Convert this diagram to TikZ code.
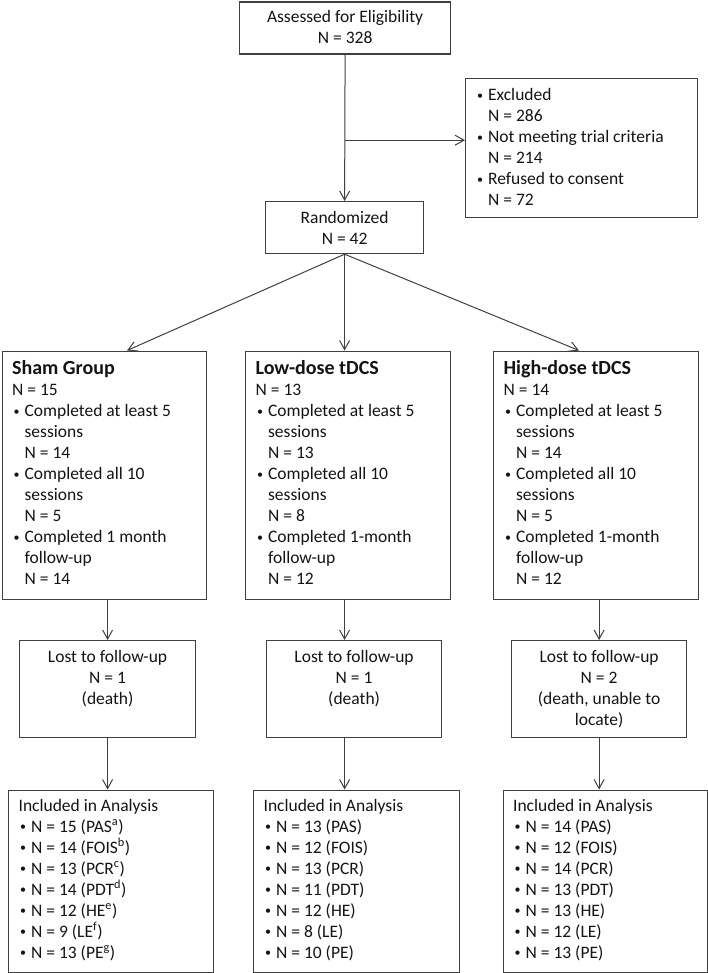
\documentclass[tikz,border=0pt]{standalone}
\usepackage{fontspec}
\setmainfont{Carlito}
\usetikzlibrary{arrows.meta}
\definecolor{lc}{RGB}{64,64,64}
\definecolor{tc}{RGB}{20,20,20}
\newcommand\bx[5]{\parbox[c][#2pt][t]{#1pt}{\vspace*{#3pt}#4\strut#5}}
\newcommand\bul{\makebox[12.5pt][l]{\hspace{1.5pt}\raisebox{1.2pt}{\fontsize{12}{12}\selectfont\textbullet}}}
\newcommand\ind{\hspace*{12.5pt}}
\newcommand\lft{\raggedright\leftskip=10pt\relax}
\newcommand\ctr{\centering}
\newcommand\ttl[1]{{\fontsize{20}{21}\selectfont\bfseries #1}}
\begin{document}
\begin{tikzpicture}[x=1pt,y=-1pt,
  box/.style={draw=lc, line width=1.2pt, inner sep=0pt, anchor=north west, text=tc,
    font=\fontsize{17.5}{21}\selectfont},
  arr/.style={draw=lc, line width=1pt, -{Straight Barb[length=9pt,width=10pt]}}]
\fill[white] (0,0) rectangle (708,973);
\useasboundingbox (0,0) rectangle (708,973);

\node[box] (assess) at (239,1.5) {\bx{211}{52}{6}{\ctr}{Assessed for Eligibility\\N = 328}};
\node[box] (excl) at (465,78.3) {\bx{231.5}{138.5}{7}{\lft}{\bul Excluded\\
\ind N = 286\\
\bul Not meeting trial criteria\\
\ind N = 214\\
\bul Refused to consent\\
\ind N = 72}};
\node[box] (rand) at (265,201) {\bx{158}{52}{7}{\ctr}{Randomized\\N = 42}};

\node[box] (sham) at (1.5,350.5) {\bx{204.5}{248.5}{9}{\lft}{\ttl{Sham Group}\\
N = 15\\
\bul Completed at least 5\\
\ind sessions\\
\ind N = 14\\
\bul Completed all 10\\
\ind sessions\\
\ind N = 5\\
\bul Completed 1 month\\
\ind follow-up\\
\ind N = 14}};
\node[box] (low) at (245,350.5) {\bx{205}{248.5}{9}{\lft}{\ttl{Low-dose tDCS}\\
N = 13\\
\bul Completed at least 5\\
\ind sessions\\
\ind N = 13\\
\bul Completed all 10\\
\ind sessions\\
\ind N = 8\\
\bul Completed 1-month\\
\ind follow-up\\
\ind N = 12}};
\node[box] (high) at (493,350.5) {\bx{205}{248.5}{9}{\lft}{\ttl{High-dose tDCS}\\
N = 14\\
\bul Completed at least 5\\
\ind sessions\\
\ind N = 14\\
\bul Completed all 10\\
\ind sessions\\
\ind N = 5\\
\bul Completed 1-month\\
\ind follow-up\\
\ind N = 12}};

\node[box] (shamlost) at (19,640) {\bx{176}{97}{7}{\ctr}{Lost to follow-up\\N = 1\\(death)}};
\node[box] (lowlost) at (266,640) {\bx{175}{97}{7}{\ctr}{Lost to follow-up\\N = 1\\(death)}};
\node[box] (highlost) at (511,640) {\bx{175}{97}{7}{\ctr}{Lost to follow-up\\N = 2\\(death, unable to\\locate)}};

\node[box] (shaminc) at (8,789.5) {\bx{204.5}{182.5}{6.3}{\lft}{Included in Analysis\\
\bul N = 15 (PAS\textsuperscript{a})\\
\bul N = 14 (FOIS\textsuperscript{b})\\
\bul N = 13 (PCR\textsuperscript{c})\\
\bul N = 14 (PDT\textsuperscript{d})\\
\bul N = 12 (HE\textsuperscript{e})\\
\bul N = 9 (LE\textsuperscript{f})\\
\bul N = 13 (PE\textsuperscript{g})}};
\node[box] (lowinc) at (253,789.5) {\bx{206}{182.5}{6.3}{\lft}{Included in Analysis\\
\bul N = 13 (PAS)\\
\bul N = 12 (FOIS)\\
\bul N = 13 (PCR)\\
\bul N = 11 (PDT)\\
\bul N = 12 (HE)\\
\bul N = 8 (LE)\\
\bul N = 10 (PE)}};
\node[box] (highinc) at (502.5,789.5) {\bx{204.5}{182.5}{6.3}{\lft}{Included in Analysis\\
\bul N = 14 (PAS)\\
\bul N = 12 (FOIS)\\
\bul N = 14 (PCR)\\
\bul N = 13 (PDT)\\
\bul N = 13 (HE)\\
\bul N = 12 (LE)\\
\bul N = 13 (PE)}};

\draw[arr] (assess.south) -- (rand.north);
\path (assess.south) ++(0,85.5) coordinate (br);
\draw[arr] (br) -- (br -| excl.west);

\draw[arr] (rand.south) -- ([xshift=125.5pt]sham.north west);
\draw[arr] (rand.south) -- (rand.south |- low.north);
\draw[arr] (rand.south) -- ([xshift=86pt]high.north west);

\draw[arr] (shamlost.north |- sham.south) -- (shamlost.north);
\draw[arr] (rand.south |- low.south) -- (rand.south |- lowlost.north);
\draw[arr] (highlost.north |- high.south) -- (highlost.north);

\draw[arr] (shamlost.south) -- (shamlost.south |- shaminc.north);
\draw[arr] (rand.south |- lowlost.south) -- (rand.south |- lowinc.north);
\draw[arr] (highlost.south) -- (highlost.south |- highinc.north);
\end{tikzpicture}
\end{document}
